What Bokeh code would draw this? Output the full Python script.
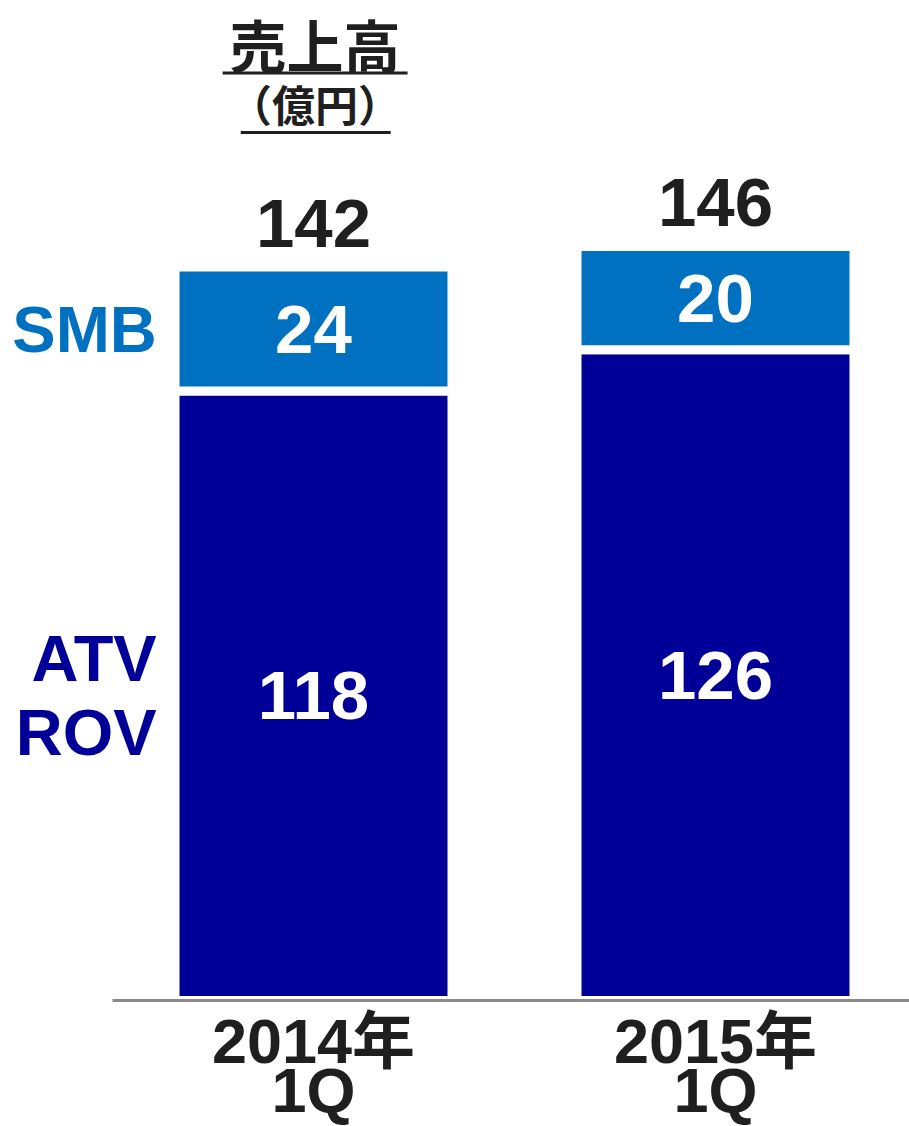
from bokeh.plotting import figure
from bokeh.models import ColumnDataSource, Range1d, LinearAxis, FixedTicker
from bokeh.core.properties import value
from bokeh.embed import file_html
from bokeh.resources import INLINE

# ---- data ----
categories = ["2014年\n1Q", "2015年\n1Q"]
atv_rov = [118, 126]
smb = [24, 20]
totals = [142, 146]
series_labels = ["ATV\nROV", "SMB"]
title_text = "売上高"
unit_text = "（億円）"

NAVY = "#000099"
BLUE = "#0070C0"
DARK = "#1f1f1f"
GRAY = "#8a8a8a"
CJK = "Noto Sans CJK JP"
LAT = "Liberation Sans"
MIX = "Liberation Sans, Noto Sans CJK JP"

PX = 5.165  # pixels per value unit (layout constant)

xs = list(range(len(categories)))
src = ColumnDataSource(dict(
    x=xs,
    atv=atv_rov,
    smb=smb,
    atv_mid=[a / 2 for a in atv_rov],
    smb_mid=[a + s / 2 for a, s in zip(atv_rov, smb)],
    tot_y=[t + 43.5 / PX for t in totals],
    atv_lbl=[str(v) for v in atv_rov],
    smb_lbl=[str(v) for v in smb],
    tot_lbl=[str(v) for v in totals],
    cat1=[c.split("\n")[0] for c in categories],
    cat2=[c.split("\n")[1] for c in categories],
    cat1_y=[-40 / PX] * len(categories),
    cat2_y=[-89 / PX] * len(categories),
))

p = figure(
    x_range=Range1d(-0.7786, 1.4826),
    y_range=Range1d(-126 / PX, 1000 / PX),
    frame_width=909, frame_height=1126,
    min_border_left=0, min_border_right=0, min_border_top=0, min_border_bottom=0,
    x_axis_location=None, y_axis_location=None,
    output_backend="svg", toolbar_location=None,
)
p.xgrid.grid_line_color = None
p.ygrid.grid_line_color = None
p.outline_line_color = None
p.background_fill_color = "white"
p.border_fill_color = "white"

p.vbar_stack(["atv", "smb"], x="x", width=0.689, source=src,
             fill_color=[NAVY, BLUE], line_color="white", line_width=9)

ax = LinearAxis(ticker=FixedTicker(ticks=[]), fixed_location=0, bounds=(-0.5, 1.4826))
ax.axis_line_color = GRAY
ax.axis_line_width = 3
ax.major_tick_line_color = None
ax.minor_tick_line_color = None
p.add_layout(ax, "below")

common = dict(source=src, text_font=value(LAT), text_font_style="bold",
              text_font_size="69px", text_align="center", text_baseline="middle")
p.text(x="x", y="atv_mid", text="atv_lbl", text_color="white", **common)
p.text(x="x", y="smb_mid", text="smb_lbl", text_color="white", **common)
p.text(x="x", y="tot_y", text="tot_lbl", text_color=DARK, **common)

# category labels below the baseline
cat_common = dict(source=src, text_font=value(MIX), text_font_style="bold",
                  text_font_size="63px", text_align="center", text_baseline="middle",
                  text_color=DARK)
p.text(x="x", y="cat1_y", text="cat1", **cat_common)
p.text(x="x", y="cat2_y", text="cat2", **cat_common)

# title block above the first bar
tsrc = ColumnDataSource(dict(
    x=[xs[0] + 0.004], y1=[(1000 - 42) / PX], y2=[(1000 - 102) / PX],
    u1=[(1000 - 72.5) / PX], u2=[(1000 - 132) / PX],
    ua0=[xs[0] - 0.226], ua1=[xs[0] + 0.234],
    ub0=[xs[0] - 0.181], ub1=[xs[0] + 0.192],
))
p.text(x="x", y="y1", text=value(title_text), source=tsrc,
       text_font=value(CJK), text_font_style="bold", text_font_size="57px",
       text_color=DARK, text_align="center", text_baseline="middle")
p.text(x="x", y="y2", text=value(unit_text), source=tsrc,
       text_font=value(CJK), text_font_style="bold", text_font_size="43px",
       text_color=DARK, text_align="center", text_baseline="middle")
p.segment(x0="ua0", x1="ua1", y0="u1", y1="u1", source=tsrc, line_color=DARK, line_width=3)
p.segment(x0="ub0", x1="ub1", y0="u2", y1="u2", source=tsrc, line_color=DARK, line_width=3)

# series labels on the left of the first bar
atv_lines = series_labels[0].split("\n")
lsrc = ColumnDataSource(dict(
    x=[xs[0] - 0.39] * 3,
    y=[atv_rov[0] + smb[0] / 2, atv_rov[0] / 2 + 37 / PX, atv_rov[0] / 2 - 37 / PX],
    t=[series_labels[1], atv_lines[0], atv_lines[1]],
    c=[BLUE, NAVY, NAVY],
))
p.text(x="x", y="y", text="t", text_color="c", source=lsrc,
       text_font=value(LAT), text_font_style="bold", text_font_size="65px",
       text_align="right", text_baseline="middle")

open("out.html", "w").write(file_html(p, INLINE))
